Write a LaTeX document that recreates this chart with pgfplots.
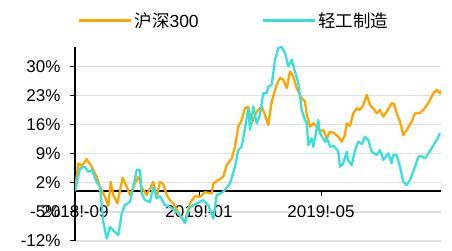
\documentclass[border=0pt]{standalone}
\usepackage{pgfplots}
\pgfplotsset{compat=1.18}
\usepackage{fontspec}
\setmainfont{Liberation Sans}
\newfontfamily\cjk{Noto Sans CJK SC}
\definecolor{hsorange}{RGB}{255,165,0}
\definecolor{qgcyan}{RGB}{56,224,218}
\begin{document}
\begin{tikzpicture}
\begin{axis}[
  at={(75pt,10pt)}, anchor=south west,
  scale only axis, width=366pt, height=194pt,
  xmin=0, xmax=366, ymin=-12, ymax=34.7,
  axis x line=middle, axis y line=left,
  axis line style={-, line width=1.3pt, black},
  hide obscured x ticks=false,
  xtick={0,124,246}, xticklabels={2018!-09,2019!-01,2019!-05},
  ytick={-12,-5,2,9,16,23,30},
  yticklabel={\pgfmathprintnumber{\tick}\%},
  /pgf/number format/assume math mode=true,
  tick align=outside, major tick length=5pt,
  tick style={black, line width=1pt},
  ymajorgrids, grid style={gray!25, line width=1.3pt},
  ticklabel style={font=\fontsize{17}{20}\selectfont},
  x tick label style={yshift=-6pt},
  y tick label style={xshift=-6pt},
  legend columns=2,
  legend style={draw=none, fill=none, at={(0.008,1.1366)}, anchor=west, inner sep=0pt,
    font=\fontsize{17.5}{20}\selectfont,
    /tikz/every even column/.append style={column sep=61pt}},
  legend image code/.code={\draw[#1, line width=2.4pt] (0pt,0pt) -- (52pt,0pt);},
  every axis plot/.append style={line width=2.3pt, line join=round},
]
\addplot[hsorange, mark=none] coordinates {
(0,0) (3.3,6.69) (6.7,6.03) (11.7,7.72) (16.7,5.87) (21.7,3.45) (25,1.04) (30,-1.38) (33.3,-3.55) (35.7,2.25) (38.3,-0.97) (42.3,-2.97) (47.7,3.21) (51.7,1.04) (55,-0.97) (58.3,1.04) (63.3,3.45) (66.7,1.04) (71.7,-0.97) (78.3,2.25) (81.7,-1.38) (85,2.17) (88.3,1.69) (91.7,-0.97) (95,-2.17) (98.3,-2.97) (102,-4.59) (106.7,-6.59) (110,-7.41) (115,-2.90) (120,-1.21) (125,-1.38) (130,-0.24) (136.7,-0.56) (138.3,1.86) (143,2.66) (148.3,3.45) (151.7,6.28) (156.7,7.89) (160,10.69) (163.3,15.52) (166.7,17.14) (170,19.96) (173.3,20.35) (176.7,16.34) (181.7,19.14) (186.7,20.35) (190,18.35) (193.3,15.93) (196.7,21.56) (201.7,25.59) (205,27.21) (208.3,26.80) (211.7,24.79) (215,28.80) (218.3,27.59) (221.7,24.79) (226.7,22.38) (230,21.56) (231.7,18.35) (233.3,17.14) (235,15.52) (238.3,16.34) (241.7,15.52) (245,14.32) (248.3,14.73) (251.7,12.72) (255,14.32) (259,14.00) (263.3,13.11) (266.7,11.90) (270,13.52) (271.7,16.34) (275,15.69) (278.3,18.76) (281.7,19.96) (285,19.55) (288.3,20.76) (291.7,23.17) (295,20.76) (298,20.04) (301.7,18.76) (305,19.55) (308.3,17.94) (311.7,19.14) (316.7,21.17) (319,21.00) (321.7,18.76) (325,16.73) (328.3,13.52) (331.7,14.73) (336.7,16.73) (340,18.76) (345,18.83) (348.3,19.55) (353.3,21.17) (358.3,23.58) (361.7,24.38) (365,23.58) (366,24.38)
};
\addlegendentry{{\cjk 沪深}300}
\addplot[qgcyan, mark=none] coordinates {
(0,0) (5,5.48) (10,5.87) (13.3,4.66) (17,5.07) (21.7,2.25) (25,1.04) (28.3,-7.41) (31.7,-11.42) (35,-8.62) (40,-9.82) (43.3,-10.62) (46.7,-5.38) (50,-3.38) (55,-2.58) (58.3,1.04) (61.7,5.07) (65,5.07) (66.7,-0.56) (70,-2.17) (75,-2.58) (78.3,1.04) (81.7,-1.76) (85,-1.21) (90,-3.38) (95,-3.79) (100,-4.59) (105,-5.79) (110,-7.65) (115,-3.79) (121.7,-2.97) (128.3,-2.17) (133.3,-3.38) (138.3,-6.59) (141.7,-0.97) (148.3,-0.17) (155,1.86) (160,5.87) (163.3,9.90) (166.7,10.69) (170,15.14) (173.3,19.96) (175,14.73) (178.3,20.35) (181.7,16.34) (185,18.35) (188.3,23.58) (191.7,23.58) (193.3,25.18) (196.7,25.59) (200,31.62) (203.3,34.45) (206.7,34.69) (210,33.24) (213.3,30.01) (216.7,31.62) (220,28.80) (223.3,26.00) (226.7,19.55) (230,17.14) (231.7,16.34) (233.3,11.10) (236.7,12.72) (238.3,10.69) (243.3,17.14) (245,13.93) (250,11.90) (252,12.79) (255,10.69) (259,10.86) (263.3,9.49) (265,5.87) (268,6.52) (271.7,9.49) (273,7.48) (276.7,6.28) (280,9.90) (283.3,11.90) (287,11.35) (290,13.11) (293.3,12.31) (296.7,9.49) (301.7,8.69) (305,9.90) (308.3,7.48) (313.3,9.10) (316.7,6.69) (318,8.69) (321.7,8.69) (325,5.87) (328.3,2.25) (331.7,1.45) (335,2.66) (340,5.87) (343.3,8.28) (346,8.45) (350,7.89) (353,8.93) (356.7,10.31) (361.7,12.31) (365,13.93)
};
\addlegendentry{{\cjk 轻工制造}}
\end{axis}
\pgfresetboundingbox
\useasboundingbox (0,0) rectangle (452pt,251pt);
\end{tikzpicture}
\end{document}
